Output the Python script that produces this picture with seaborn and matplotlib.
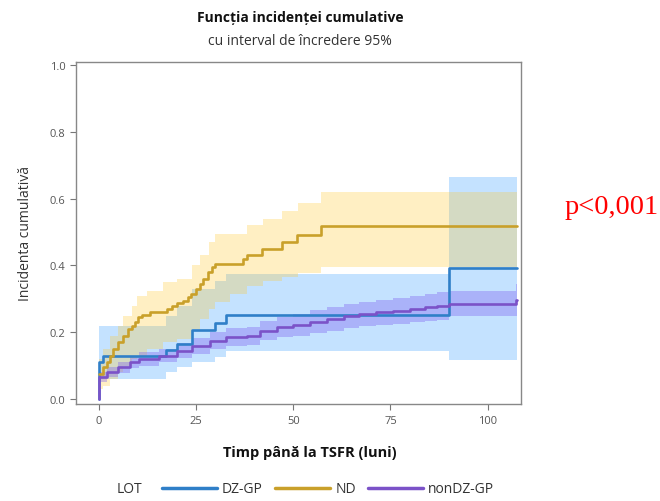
import matplotlib
matplotlib.use("Agg")
import matplotlib.pyplot as plt
from matplotlib.lines import Line2D
import numpy as np
import pandas as pd
import seaborn as sns

# ---- data ----
groups = ["DZ-GP", "ND", "nonDZ-GP"]

# DZ-GP
dz_time = [0, 0, 1.0, 17.2, 20.0, 24.0, 30.0, 32.8, 90.0, 107.6]
dz_est = [0, 0.11, 0.13, 0.147, 0.165, 0.207, 0.228, 0.253, 0.393, 0.393]
dz_band_time = [0, 1.0, 17.2, 20.0, 24.0, 30.0, 32.8, 90.0, 107.6]
dz_lower = [0.06, 0.06, 0.08, 0.095, 0.11, 0.127, 0.145, 0.117, 0.117]
dz_upper = [0.22, 0.22, 0.25, 0.28, 0.33, 0.355, 0.375, 0.665, 0.665]

# ND
nd_time = [0, 1.1, 2.0, 2.8, 3.7, 5.0, 6.3, 7.5, 8.4, 9.3, 10.1, 11.0, 13.1,
           17.4, 18.7, 20.0, 21.7, 23.0, 23.8, 25.1, 26.0, 26.8, 28.1, 29.0,
           29.8, 37.1, 38.0, 42.0, 47.0, 51.0, 57.2, 107.6]
nd_est = [0.075, 0.095, 0.11, 0.13, 0.15, 0.17, 0.19, 0.21, 0.22, 0.232, 0.245,
          0.252, 0.26, 0.27, 0.28, 0.288, 0.295, 0.305, 0.315, 0.33, 0.345,
          0.36, 0.38, 0.395, 0.405, 0.42, 0.432, 0.45, 0.47, 0.49, 0.517, 0.517]
nd_band_time = [0, 1.1, 2.8, 5.0, 6.3, 8.4, 9.7, 12.3, 16.5, 20.0, 24.0, 26.0,
                28.4, 30.0, 33.7, 38.0, 42.2, 47.0, 51.2, 57.2, 107.6]
nd_lower = [0.03, 0.04, 0.06, 0.08, 0.10, 0.12, 0.13, 0.15, 0.17, 0.18, 0.21,
            0.24, 0.27, 0.29, 0.315, 0.34, 0.355, 0.365, 0.378, 0.395, 0.395]
nd_upper = [0.12, 0.15, 0.19, 0.22, 0.25, 0.28, 0.31, 0.325, 0.35, 0.36, 0.40,
            0.43, 0.47, 0.495, 0.495, 0.52, 0.54, 0.563, 0.588, 0.62, 0.62]

# nonDZ-GP
ndz_time = [0, 0, 2, 5, 8, 10.4, 15.5, 20, 24, 28.5, 32.8, 38, 41.4, 45.7, 50,
            54.3, 58.6, 63, 67, 71.3, 75.6, 80, 84, 87, 90, 107.2, 107.6]
ndz_est = [0, 0.065, 0.08, 0.095, 0.11, 0.12, 0.13, 0.145, 0.16, 0.175, 0.185,
           0.19, 0.205, 0.215, 0.222, 0.232, 0.24, 0.248, 0.255, 0.26, 0.265,
           0.27, 0.275, 0.28, 0.285, 0.298, 0.298]
ndz_lower = [0, 0.05, 0.065, 0.078, 0.092, 0.10, 0.11, 0.123, 0.136, 0.15,
             0.158, 0.163, 0.176, 0.185, 0.19, 0.198, 0.205, 0.212, 0.218,
             0.222, 0.226, 0.23, 0.234, 0.238, 0.25, 0.25, 0.25]
ndz_upper = [0, 0.08, 0.095, 0.112, 0.128, 0.14, 0.15, 0.167, 0.184, 0.2,
             0.212, 0.217, 0.234, 0.245, 0.254, 0.266, 0.275, 0.284, 0.292,
             0.298, 0.304, 0.31, 0.316, 0.322, 0.325, 0.345, 0.345]

x_ticks = [0, 25, 50, 75, 100]
y_ticks = [0.0, 0.2, 0.4, 0.6, 0.8, 1.0]

line_colors = {"DZ-GP": "#2f7fc8", "ND": "#c9a02a", "nonDZ-GP": "#7b52c8"}
band_colors = {"DZ-GP": ("#3ca0ff", 0.30), "ND": ("#ffc828", 0.28),
               "nonDZ-GP": ("#7a5af0", 0.35)}

# long table for seaborn
curves = pd.concat([
    pd.DataFrame({"time": dz_time, "est": dz_est, "LOT": "DZ-GP"}),
    pd.DataFrame({"time": nd_time, "est": nd_est, "LOT": "ND"}),
    pd.DataFrame({"time": ndz_time, "est": ndz_est, "LOT": "nonDZ-GP"}),
], ignore_index=True)

sns.set_theme(style="white")
plt.rcParams["font.family"] = ["Open Sans", "DejaVu Sans"]

fig = plt.figure(figsize=(6.6, 5.02), dpi=100)
ax = fig.add_axes([0.115, 0.193, 0.674, 0.682])

# confidence bands (blue first, yellow over it, purple last)
bands = [("DZ-GP", dz_band_time, dz_lower, dz_upper),
         ("ND", nd_band_time, nd_lower, nd_upper),
         ("nonDZ-GP", ndz_time, ndz_lower, ndz_upper)]
for name, t, lo, hi in bands:
    col, a = band_colors[name]
    ax.fill_between(t, lo, hi, step="post", color=col, alpha=a, linewidth=0)

sns.lineplot(data=curves, x="time", y="est", hue="LOT", hue_order=groups,
             palette=line_colors, drawstyle="steps-post", estimator=None,
             sort=False, linewidth=1.9, legend=False, ax=ax)

ax.set_xlim(-5.9, 108.5)
ax.set_ylim(-0.015, 1.01)
ax.set_xticks(x_ticks)
ax.set_yticks(y_ticks)
ax.set_yticklabels([f"{v:.1f}" for v in y_ticks])
ax.tick_params(axis="both", which="major", direction="out", length=4, width=0.8,
               color="#777777", labelsize=8, labelcolor="#555555",
               bottom=True, left=True)
for s in ax.spines.values():
    s.set_color("#888888")
    s.set_linewidth(1.0)

ax.set_xlabel("")
ax.set_ylabel("Incidenta cumulativă", fontsize=10, color="#333333", labelpad=12)

fig.text(0.455, 0.964, "Funcția incidenței cumulative", ha="center", va="center",
         fontsize=10, fontweight="bold", color="#111111")
fig.text(0.455, 0.918, "cu interval de încredere 95%", ha="center", va="center",
         fontsize=10, color="#333333")
fig.text(0.47, 0.098, "Timp până la TSFR (luni)", ha="center", va="center",
         fontsize=10.5, fontweight="bold", color="#111111")

# legend row at the bottom
fig.text(0.177, 0.024, "LOT", ha="left", va="center", fontsize=10, color="#333333")
handles = [Line2D([], [], color=line_colors[g], linewidth=2.5) for g in groups]
fig.legend(handles, groups, loc="center left", bbox_to_anchor=(0.245, 0.024),
           ncol=3, frameon=False, fontsize=10, handlelength=4.0,
           handletextpad=0.35, columnspacing=0.85, borderaxespad=0,
           borderpad=0, labelcolor="#333333")

fig.text(0.856, 0.586, "p<0,001", ha="left", va="center", color="red",
         fontsize=20.5, family=["Liberation Serif", "DejaVu Serif"])

fig.savefig("out.png", dpi=100)
